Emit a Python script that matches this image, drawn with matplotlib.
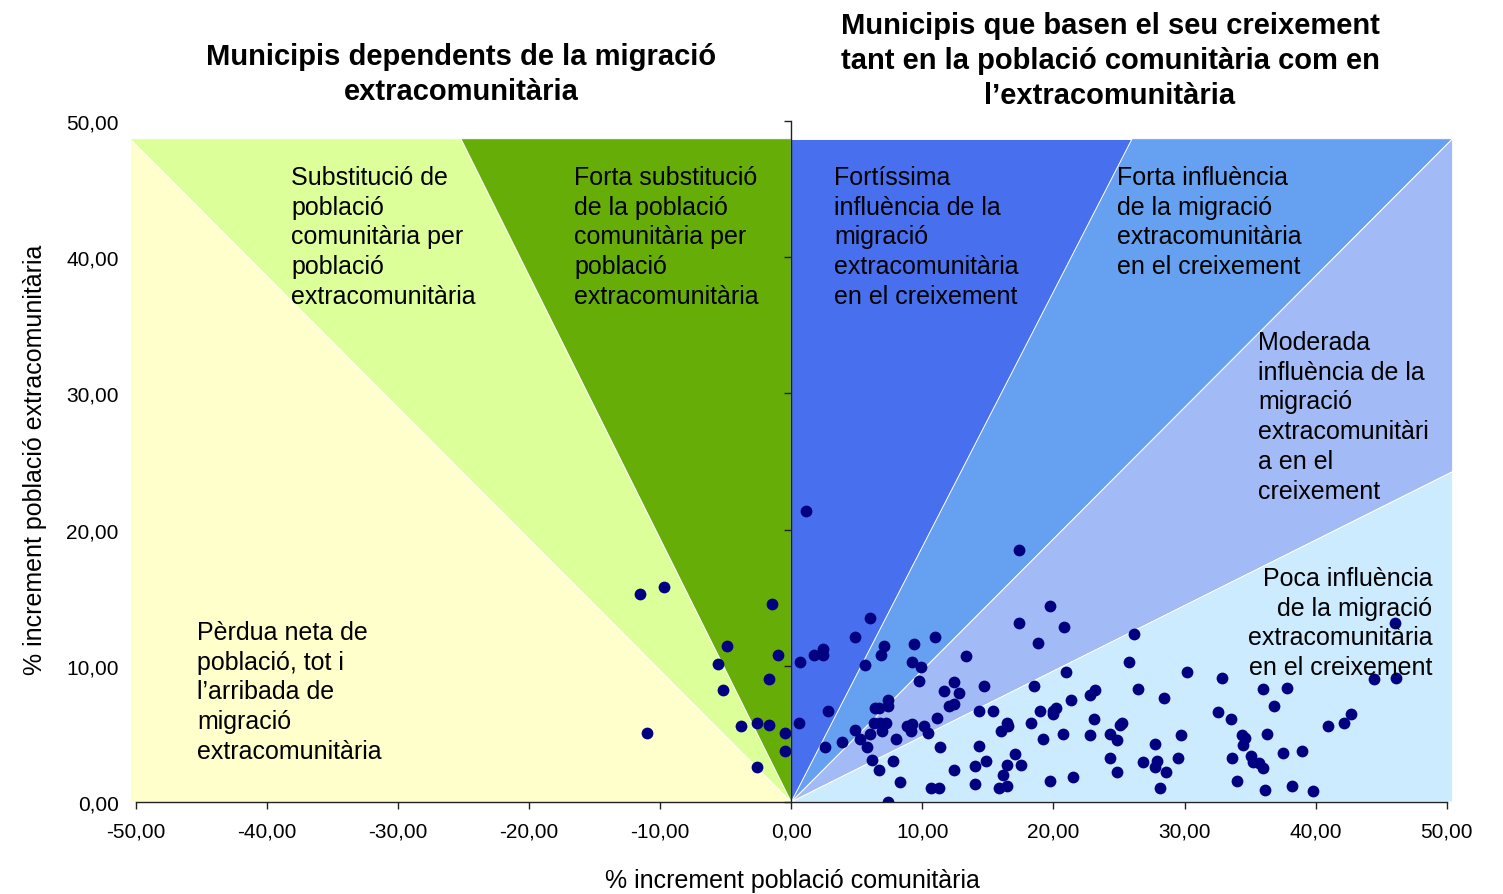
import matplotlib
matplotlib.use("Agg")
import matplotlib.pyplot as plt
from matplotlib.patches import Polygon

plt.rcParams['font.family'] = ['Liberation Sans', 'DejaVu Sans']

# ---------------- data ----------------
x_comunitaria = [
    -11.53, -9.68, -1.44, -4.90, -5.56, -1.03, -1.72, -5.18, -11.02, -3.83, -2.61, -1.72, -0.50, -0.50, -2.63,
    0.70, 1.77, 2.45, 2.45, 2.83, 0.57, 2.58, 1.10,
    17.35, 19.77, 17.35, 20.81, 18.80, 6.04, 4.84, 10.95, 9.37, 7.10, 6.83, 5.63, 9.24, 9.93, 9.77, 13.36,
    20.96, 14.71, 12.44, 11.63, 12.83, 12.04, 12.42, 18.55, 21.34, 22.79, 23.17, 7.38, 7.38, 6.40, 6.70,
    14.30, 15.37, 18.95, 20.17, 19.99, 19.99, 23.10, 6.34, 6.77, 7.23, 11.10, 8.81, 9.24, 9.11, 10.15, 10.44,
    16.46, 16.56, 16.03, 18.32, 20.71, 22.82, 19.23, 4.84, 5.22, 6.04, 6.95, 8.02, 3.90, 5.78, 6.16, 6.70,
    7.77, 8.30, 7.36, 11.37, 14.30, 12.42, 14.83, 14.05, 10.69, 11.25, 14.05, 17.10, 16.43, 17.50, 16.18,
    15.88, 16.46, 19.77, 21.47,
    26.17, 25.77, 30.17, 32.84, 26.43, 28.44, 36.01, 37.80, 36.83, 32.58, 33.52, 24.32, 24.83, 25.23, 25.08,
    29.76, 27.77, 34.36, 34.64, 34.44, 36.29, 37.49, 24.32, 24.83, 26.83, 27.90, 27.77, 28.57, 29.50, 28.15,
    33.62, 35.10, 35.25, 35.66, 36.01, 34.00, 36.14, 38.18, 46.06, 44.48, 46.16, 40.97, 42.17, 42.70, 38.96,
    39.78,
]
y_extracomunitaria = [
    15.29, 15.81, 14.54, 11.43, 10.16, 10.79, 9.03, 8.25, 5.04, 5.56, 5.80, 5.68, 5.04, 3.74, 2.59,
    10.30, 10.79, 11.23, 10.79, 6.68, 5.80, 4.01, 21.34,
    18.50, 14.39, 13.12, 12.87, 11.70, 13.51, 12.09, 12.09, 11.60, 11.45, 10.82, 10.06, 10.30, 9.93, 8.88, 10.70,
    9.52, 8.49, 8.79, 8.13, 8.00, 7.07, 7.20, 8.52, 7.47, 7.86, 8.22, 7.51, 7.07, 6.92, 6.92,
    6.70, 6.70, 6.70, 6.92, 6.66, 6.44, 6.07, 5.82, 5.82, 5.82, 6.19, 5.56, 5.70, 5.19, 5.58, 5.04,
    5.82, 5.56, 5.19, 5.82, 5.01, 4.92, 4.65, 5.31, 4.65, 5.01, 5.19, 4.65, 4.38, 4.01, 3.11, 2.35,
    2.99, 1.44, 0.02, 4.01, 4.13, 2.35, 2.99, 2.62, 1.05, 1.05, 1.32, 3.50, 2.74, 2.74, 1.96,
    1.05, 1.20, 1.57, 1.84,
    12.36, 10.30, 9.52, 9.13, 8.30, 7.61, 8.27, 8.35, 7.07, 6.58, 6.07, 5.01, 4.53, 5.80, 5.65,
    4.92, 4.26, 4.94, 4.68, 4.21, 5.01, 3.62, 3.23, 2.20, 2.96, 3.01, 2.59, 2.20, 3.23, 1.05,
    3.23, 3.36, 2.91, 2.86, 2.47, 1.57, 0.90, 1.17, 13.12, 9.01, 9.13, 5.56, 5.80, 6.44, 3.74,
    0.81,
]

x_ticks = [-50, -40, -30, -20, -10, 0, 10, 20, 30, 40, 50]
y_ticks = [0, 10, 20, 30, 40, 50]

# region boundaries (x reached at the top of the background, right-edge height of last boundary)
region_top = 48.7
boundary_top_x = [-25.2, 0.0, 26.0]
right_edge_y = 24.25
region_colors = ['#FFFFCC', '#DDFF99', '#66AD08', '#4870EE', '#66A0F0', '#A2BAF5', '#CCEBFF']

region_labels = [
    "Substitució de\npoblació\ncomunitària per\npoblació\nextracomunitària",
    "Forta substitució\nde la població\ncomunitària per\npoblació\nextracomunitària",
    "Fortíssima\ninfluència de la\nmigració\nextracomunitària\nen el creixement",
    "Forta influència\nde la migració\nextracomunitària\nen el creixement",
    "Moderada\ninfluència de la\nmigració\nextracomunitàri\na en el\ncreixement",
    "Poca influència\nde la migració\nextracomunitària\nen el creixement",
    "Pèrdua neta de\npoblació, tot i\nl’arribada de\nmigració\nextracomunitària",
]
title_left = "Municipis dependents de la migració\nextracomunitària"
title_right = "Municipis que basen el seu creixement\ntant en la població comunitària com en\nl’extracomunitària"
xlabel = "% increment població comunitària"
ylabel = "% increment població extracomunitària"

def fmt(v):
    return f"{v:.2f}".replace(".", ",")

# ---------------- figure ----------------
fig = plt.figure(figsize=(15.03, 8.95), dpi=100)
ax = fig.add_axes([0.0864, 0.1028, 0.8801, 0.7609])
xl, xr = -50.45, 50.45
ax.set_xlim(xl, xr)
ax.set_ylim(0, 50)

T = region_top
b2, b3, b4 = boundary_top_x
polys = [
    [(0, 0), (xl, 0), (xl, T)],
    [(0, 0), (xl, T), (b2, T)],
    [(0, 0), (b2, T), (b3, T)],
    [(0, 0), (b3, T), (b4, T)],
    [(0, 0), (b4, T), (xr, T)],
    [(0, 0), (xr, T), (xr, right_edge_y)],
    [(0, 0), (xr, right_edge_y), (xr, 0)],
]
for verts, c in zip(polys, region_colors):
    ax.add_patch(Polygon(verts, closed=True, facecolor=c, edgecolor='white',
                         linewidth=0.7, zorder=1))

ax.scatter(x_comunitaria, y_extracomunitaria, s=72, color='#000080', zorder=4, linewidths=0)

# spines
for s in ['top', 'right']:
    ax.spines[s].set_visible(False)
ax.spines['bottom'].set_position(('data', 0))
ax.spines['bottom'].set_bounds(-50, 50)
ax.spines['left'].set_position(('data', 0))
ax.spines['left'].set_bounds(0, 50)
for s in ['bottom', 'left']:
    ax.spines[s].set_color('#222222')
    ax.spines[s].set_linewidth(1.0)
    ax.spines[s].set_zorder(5)

ax.set_xticks(x_ticks)
ax.set_xticklabels([fmt(v) for v in x_ticks], fontsize=15)
ax.tick_params(axis='x', direction='out', length=5, width=1, color='#222222', pad=9)
ax.set_yticks(y_ticks)
ax.tick_params(axis='y', direction='out', length=5, width=1, color='#222222', labelleft=False)

sec = ax.secondary_yaxis('left')
sec.set_yticks(y_ticks)
sec.set_yticklabels([fmt(v) for v in y_ticks], fontsize=15)
sec.tick_params(axis='y', length=0, pad=8)
sec.spines['left'].set_visible(False)

# region texts
ls = 1.30
fs = 18
ax.text(-38.15, 46.77, region_labels[0], fontsize=fs, ha='left', va='top', linespacing=ls, zorder=6)
ax.text(-16.57, 46.77, region_labels[1], fontsize=fs, ha='left', va='top', linespacing=ls, zorder=6)
ax.text(3.26, 46.77, region_labels[2], fontsize=fs, ha='left', va='top', linespacing=ls, zorder=6)
ax.text(24.85, 46.77, region_labels[3], fontsize=fs, ha='left', va='top', linespacing=ls, zorder=6)
ax.text(35.61, 34.65, region_labels[4], fontsize=fs, ha='left', va='top', linespacing=ls, zorder=6)
ax.text(48.90, 17.33, region_labels[5], fontsize=fs, ha='right', va='top', linespacing=ls,
        multialignment='right', zorder=6)
ax.text(-45.31, 13.36, region_labels[6], fontsize=fs, ha='left', va='top', linespacing=ls, zorder=6)

# titles and axis labels
fig.text(0.3067, 0.9167, title_left, fontsize=21, fontweight='bold', ha='center', va='center',
         linespacing=1.33)
fig.text(0.7385, 0.9318, title_right, fontsize=21, fontweight='bold', ha='center', va='center',
         linespacing=1.33)
fig.text(0.527, 0.0156, xlabel, fontsize=18, ha='center', va='center')
fig.text(0.0233, 0.486, ylabel, fontsize=18, ha='center', va='center', rotation=90)

fig.savefig("out.png", dpi=100)
